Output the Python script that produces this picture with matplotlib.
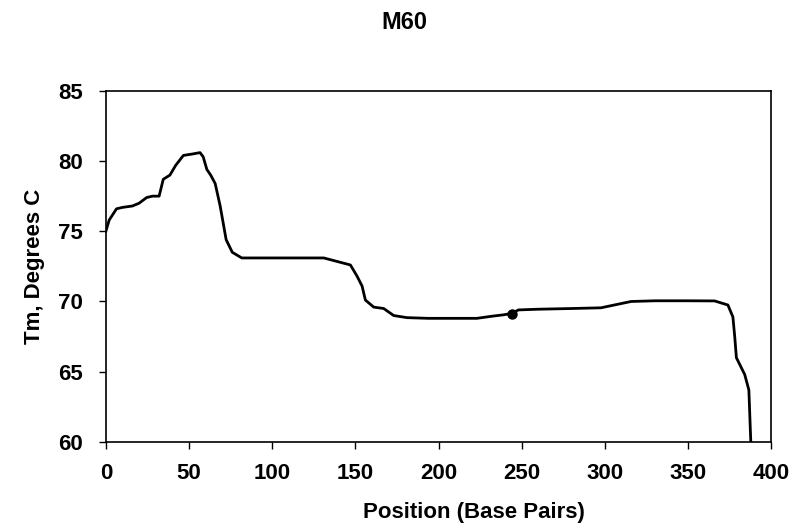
import matplotlib
matplotlib.use('Agg')
import matplotlib.pyplot as plt

# melting temperature profile
position = [0, 2, 6.4, 10, 16, 20, 24.5, 28, 32, 34.5, 38.5, 42, 46.6, 52, 56.6,
            58.5, 60.7, 63, 65.7, 68.7, 72.3, 76, 81.7, 100, 120, 131, 139, 147,
            151, 154, 156, 161, 167, 173, 181, 194, 210, 223, 232, 239, 244, 248,
            260, 280, 297.6, 305.6, 315.7, 330, 350, 365.9, 373.9, 376.9, 378,
            379, 384, 386.5, 387.5, 388]
tm = [75.0, 75.8, 76.6, 76.7, 76.8, 77.0, 77.4, 77.5, 77.5, 78.7, 79.0, 79.7,
      80.4, 80.5, 80.6, 80.3, 79.4, 79.0, 78.4, 76.8, 74.4, 73.5, 73.1, 73.1,
      73.1, 73.1, 72.85, 72.6, 71.8, 71.1, 70.1, 69.6, 69.5, 69.0, 68.85, 68.8,
      68.8, 68.8, 68.95, 69.05, 69.15, 69.4, 69.45, 69.5, 69.55, 69.75, 70.0,
      70.05, 70.05, 70.04, 69.75, 68.9, 67.5, 66.0, 64.8, 63.7, 60.5, 59.0]
marker_x = [244]
marker_y = [69.1]

fig = plt.figure(figsize=(7.96, 5.28), dpi=100)
ax = fig.add_axes([0.133, 0.163, 0.836, 0.665])

ax.plot(position, tm, color='black', linewidth=2.0, solid_joinstyle='round')
ax.plot(marker_x, marker_y, 'o', color='black', markersize=6.5)

ax.set_xlim(0, 400)
ax.set_ylim(60, 85)
ax.set_xticks(range(0, 401, 50))
ax.set_yticks(range(60, 86, 5))

font = 'Liberation Sans'
for lab in ax.get_xticklabels() + ax.get_yticklabels():
    lab.set_fontfamily(font)
    lab.set_fontweight('bold')
    lab.set_fontsize(16)
ax.tick_params(direction='out', length=5, width=1)
ax.tick_params(axis='x', pad=10)
ax.tick_params(axis='y', pad=11.5)
for s in ax.spines.values():
    s.set_linewidth(1.2)

ax.set_xlabel('Position (Base Pairs)', fontfamily=font, fontweight='bold',
              fontsize=16)
ax.set_ylabel('Tm, Degrees C', fontfamily=font, fontweight='bold',
              fontsize=16)
ax.xaxis.set_label_coords(0.553, -0.171)
ax.yaxis.set_label_coords(-0.092, 0.5)
fig.text(0.5075, 0.958, 'M60', ha='center', va='center', fontfamily=font,
         fontsize=17, fontweight='bold')

fig.savefig('out.png', dpi=100)
